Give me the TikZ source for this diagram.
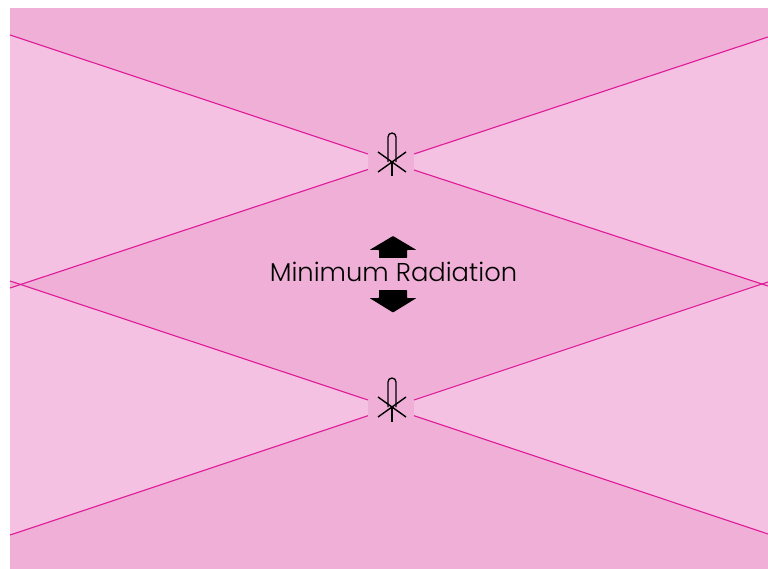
\documentclass[tikz,border=0pt]{standalone}
\usepackage{fontspec}
\setmainfont{Poppins Light}
\definecolor{darkpink}{HTML}{F0AFD7}
\definecolor{lightpink}{HTML}{F4C1E3}
\definecolor{rule}{HTML}{DE1A96}
\tikzset{
  lightzone/.style={fill=lightpink,draw=none},
  beam/.style={draw=rule,line width=1.1pt},
  antenna/.style={draw=black,line width=1.4pt},
  arrowshape/.style={fill=black,draw=none,rounded corners=0.6pt}
}
\newcommand{\antennaglyph}[1]{%
  \begin{scope}[yshift=#1]
    \draw[antenna] (378,152) -- (406,172);
    \draw[antenna] (406,152) -- (378,172);
    \draw[antenna] (392,162) -- (392,176.5);
    \draw[antenna,line width=1.3pt] (388,162) -- (388,137) arc[start angle=180,end angle=360,radius=4] -- (396,162);
  \end{scope}}
\begin{document}
\begin{tikzpicture}[x=1pt,y=-1pt]
\useasboundingbox (0,0) rectangle (768,569);
\fill[white] (0,0) rectangle (768,569);
\fill[darkpink] (10,8) rectangle (768,569);
% light zones
\fill[lightzone] (10,35) -- (368,154) -- (368,169.5) -- (21,284.5) -- (10,281) -- cycle;
\fill[lightzone] (10,288) -- (21,284.5) -- (368,400) -- (368,415.7) -- (10,535) -- cycle;
\fill[lightzone] (768,37) -- (414,154) -- (414,170) -- (763,284) -- (768,282) -- cycle;
\fill[lightzone] (768,286) -- (763,284) -- (414,400) -- (414,415.7) -- (768,534) -- cycle;
% beam edges
\draw[beam] (10,35) -- (368,154);
\draw[beam] (368,169.5) -- (10,288);
\draw[beam] (10,281) -- (368,400);
\draw[beam] (368,415.7) -- (10,535);
\draw[beam] (768,37) -- (414,154);
\draw[beam] (414,170) -- (768,286);
\draw[beam] (768,282) -- (414,400);
\draw[beam] (414,415.7) -- (768,534);
% antennas
\antennaglyph{0pt}
\antennaglyph{-245pt}
% arrows
\fill[arrowshape] (393,236) -- (416.5,250) -- (407,250) -- (407,258) -- (379,258) -- (379,250) -- (369.5,250) -- cycle;
\fill[arrowshape] (379,290) -- (407,290) -- (407,298) -- (416.5,298) -- (393,312.5) -- (369.5,298) -- (379,298) -- cycle;
\node[inner sep=0pt,anchor=base,font=\fontsize{25.8}{30}\selectfont] (label) at (393.5,282) {Minimum Radiation};
\end{tikzpicture}
\end{document}
